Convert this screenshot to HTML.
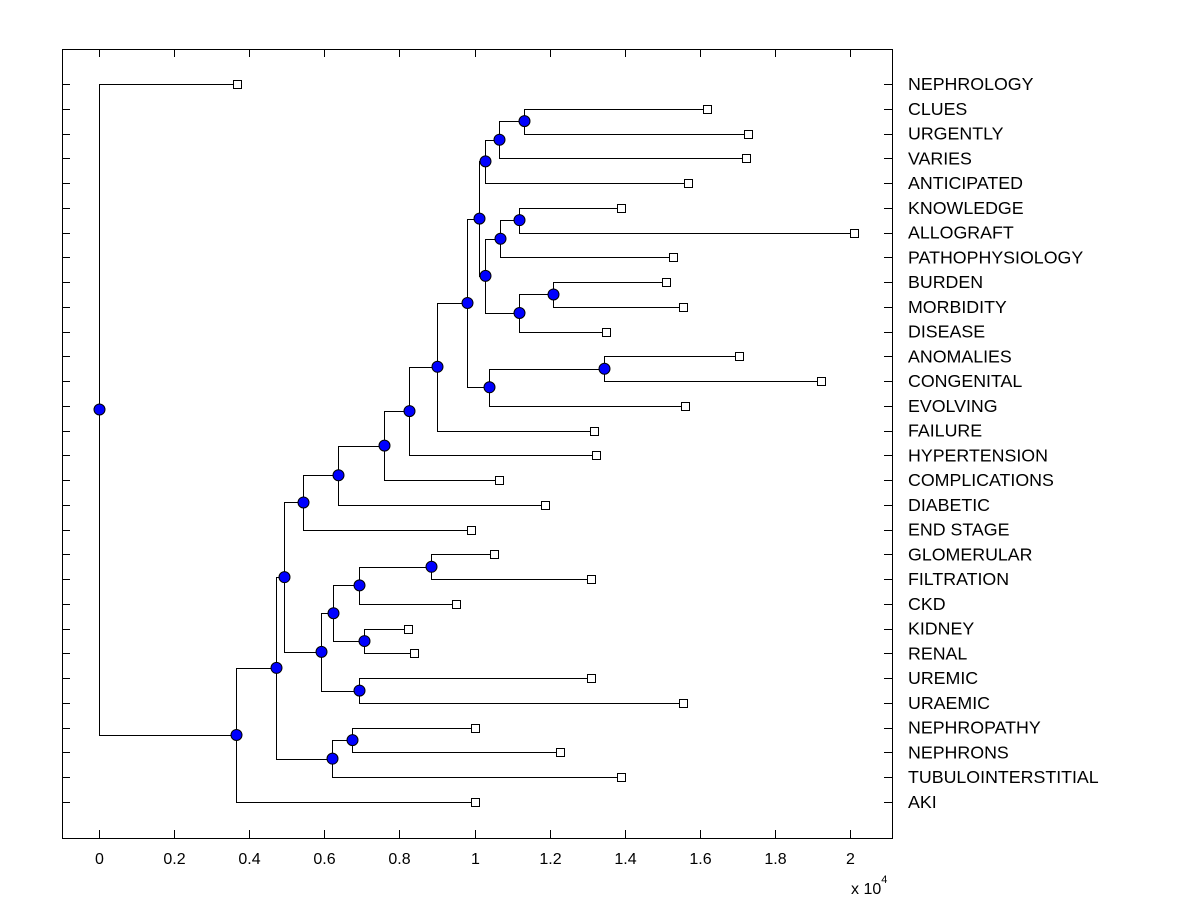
<!DOCTYPE html>
<html><head><meta charset="utf-8"><style>
body{margin:0;background:#fff;}
svg{display:block;font-family:"Liberation Sans",Arial,sans-serif;}
</style></head><body>
<svg id="c" width="1200" height="900" xmlns="http://www.w3.org/2000/svg"></svg>
<script>
const leaves=["NEPHROLOGY","CLUES","URGENTLY","VARIES","ANTICIPATED","KNOWLEDGE","ALLOGRAFT","PATHOPHYSIOLOGY","BURDEN","MORBIDITY","DISEASE","ANOMALIES","CONGENITAL","EVOLVING","FAILURE","HYPERTENSION","COMPLICATIONS","DIABETIC","END STAGE","GLOMERULAR","FILTRATION","CKD","KIDNEY","RENAL","UREMIC","URAEMIC","NEPHROPATHY","NEPHRONS","TUBULOINTERSTITIAL","AKI"];
const leafValues=[0.368,1.619,1.728,1.723,1.569,1.390,2.011,1.529,1.510,1.555,1.350,1.704,1.923,1.561,1.318,1.324,1.065,1.188,0.991,1.052,1.310,0.951,0.823,0.839,1.310,1.555,1.001,1.228,1.390,1.001];
// merges: [id, childA, childB, height]
const merges=[
["X","CLUES","URGENTLY",1.132],["W","X","VARIES",1.065],["U","W","ANTICIPATED",1.028],
["AA","KNOWLEDGE","ALLOGRAFT",1.118],["Y","AA","PATHOPHYSIOLOGY",1.068],
["AB","BURDEN","MORBIDITY",1.209],["Z","AB","DISEASE",1.118],["V","Y","Z",1.028],
["R","U","V",1.012],["T","ANOMALIES","CONGENITAL",1.345],["S","T","EVOLVING",1.039],
["Q","R","S",0.980],["P","Q","FAILURE",0.900],["O","P","HYPERTENSION",0.826],
["N","O","COMPLICATIONS",0.759],["M","N","DIABETIC",0.636],["F","M","END STAGE",0.543],
["L","GLOMERULAR","FILTRATION",0.884],["J","L","CKD",0.692],["K","KIDNEY","RENAL",0.706],
["H","J","K",0.623],["I","UREMIC","URAEMIC",0.692],["G","H","I",0.591],["C","F","G",0.493],
["E","NEPHROPATHY","NEPHRONS",0.674],["D","E","TUBULOINTERSTITIAL",0.620],["B","C","D",0.471],
["A","B","AKI",0.365],["ROOT","NEPHROLOGY","A",0.0]];
const xTicks=[0,0.2,0.4,0.6,0.8,1,1.2,1.4,1.6,1.8,2];
const xTickLabels=["0","0.2","0.4","0.6","0.8","1","1.2","1.4","1.6","1.8","2"];

const L=62,R=892,T=49,B=838;
const xs=v=>99+v*375.5;
const ys=i=>84+i*(802-84)/29;
const svg=document.getElementById('c');
const NS="http://www.w3.org/2000/svg";
function mk(tag,a,parent){const e=document.createElementNS(NS,tag);for(const k in a)e.setAttribute(k,a[k]);(parent||svg).appendChild(e);return e;}
const frame=mk('rect',{x:L+0.5,y:T+0.5,width:R-L,height:B-T,fill:'#fff',stroke:'#000','stroke-width':1});


const pos={};
leaves.forEach((n,i)=>{pos[n]={x:xs(leafValues[i]),y:ys(i),leaf:true};});
const lines=mk('g',{stroke:'#000','stroke-width':1,fill:'none'});


const nodes=[];
merges.forEach(m=>{
  const a=pos[m[1]],b=pos[m[2]],x=xs(m[3]);
  const y=(a.y+b.y)/2;
  pos[m[0]]={x:x,y:y};
  const p=mk('path',{d:`M${a.x} ${Math.round(a.y)+0.5}H${Math.round(x)+0.5}V${Math.round(b.y)+0.5}H${b.x}`},lines);
  
  
  nodes.push([m[0],Math.round(x)+0.5,y]);
});
leaves.forEach((n,i)=>{
  const r=mk('rect',{x:Math.round(pos[n].x)-3.5,y:Math.round(pos[n].y)-3.5,width:8,height:8,fill:'#fff',stroke:'#000'});
  
  
  const t=mk('text',{x:908,y:ys(i)+6,'font-size':17.8,fill:'#000'});
  t.textContent=n;
  
  
  const tk=mk('path',{d:`M${L} ${Math.round(ys(i))+0.5}h8M${R} ${Math.round(ys(i))+0.5}h-8`,stroke:'#000'});
  
  
});
nodes.forEach(n=>{
  const c=mk('circle',{cx:n[1],cy:n[2],r:5.5,fill:'#0000ff',stroke:'#000','stroke-width':1});
  
  
});
xTicks.forEach((v,i)=>{
  const x=Math.round(xs(v))+0.5;
  const tk=mk('path',{d:`M${x} ${B}v-8M${x} ${T}v8`,stroke:'#000'});
  
  
  const t=mk('text',{x:x,y:864,'font-size':16,'text-anchor':'middle',fill:'#000'});
  t.textContent=xTickLabels[i];
  
  
});
const ex=mk('text',{x:851,y:894,'font-size':16,fill:'#000'});
ex.innerHTML='x 10<tspan dy="-11" font-size="11">4</tspan>';


</script>
</body></html>
